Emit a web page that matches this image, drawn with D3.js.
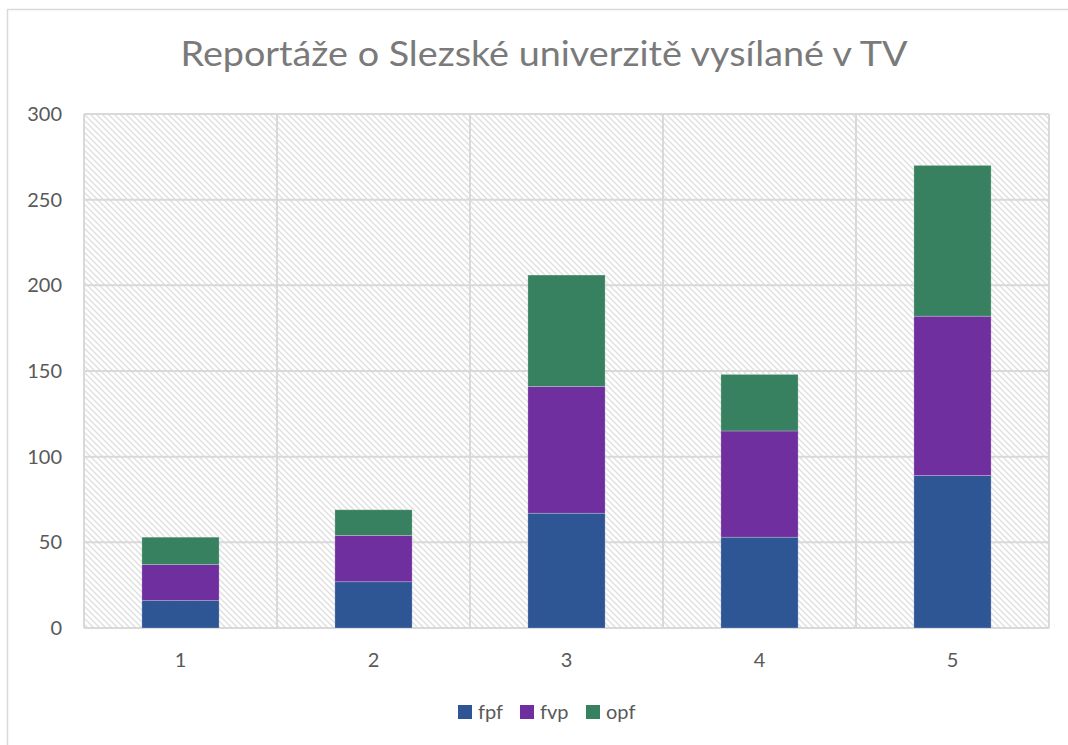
<!DOCTYPE html>
<html><head><meta charset="utf-8">
<script src="https://cdn.jsdelivr.net/npm/d3@7"></script>
<style>body{margin:0;background:#fff}svg{display:block}text{font-family:Lato,"Open Sans",sans-serif}</style>
</head><body>
<svg id="c" width="1068" height="745"></svg>
<script>
const title = "Reportáže o Slezské univerzitě vysílané v TV";
const categories = ["1","2","3","4","5"];
const seriesNames = ["fpf","fvp","opf"];
const fpf = [16, 27, 67, 53, 89];
const fvp = [21, 27, 74, 62, 93];
const opf = [16, 15, 65, 33, 88];
const seriesColors = ["#2E5594","#6F2F9E","#388160"];
const yTicks = [0,50,100,150,200,250,300];

const svg = d3.select("#c");
const plot = {l:84, r:1049, t:114, b:628};

// outer border
svg.append("rect").attr("x",7.5).attr("y",9.5).attr("width",1200).attr("height",900)
  .attr("fill","#fff").attr("stroke","#d9d9d9").attr("stroke-width",1.5);

// hatch pattern
const defs = svg.append("defs");
const pat = defs.append("pattern").attr("id","hatch").attr("patternUnits","userSpaceOnUse")
  .attr("width",6).attr("height",6);
pat.append("rect").attr("width",6).attr("height",6).attr("fill","#fff");
pat.append("path").attr("d","M0,0L6,6M-3,3L3,9M3,-3L9,3").attr("stroke","#dedede").attr("stroke-width",1.3);

const x = d3.scaleBand().domain(categories).range([plot.l, plot.r]).paddingInner(0).paddingOuter(0);
const y = d3.scaleLinear().domain([0,300]).range([plot.b, plot.t]);

svg.append("rect").attr("x",plot.l).attr("y",plot.t).attr("width",plot.r-plot.l).attr("height",plot.b-plot.t)
  .attr("fill","url(#hatch)");

// gridlines
const g = svg.append("g");
g.selectAll("line.h").data(yTicks).join("line")
  .attr("x1",plot.l).attr("x2",plot.r).attr("y1",d=>y(d)).attr("y2",d=>y(d))
  .attr("stroke","#d9d9d9").attr("stroke-width",2);
const vb = categories.map(c=>x(c)).concat([plot.r]);
g.selectAll("line.v").data(vb).join("line")
  .attr("x1",d=>d).attr("x2",d=>d).attr("y1",plot.t).attr("y2",plot.b)
  .attr("stroke","#d9d9d9").attr("stroke-width",2);

// stacked data
const table = categories.map((c,i)=>({cat:c, fpf:fpf[i], fvp:fvp[i], opf:opf[i]}));
const stack = d3.stack().keys(seriesNames)(table);
const bw = x.bandwidth()*0.4;
svg.append("g").selectAll("g").data(stack).join("g")
  .attr("fill",(d,i)=>seriesColors[i])
  .selectAll("rect").data(d=>d).join("rect")
  .attr("x",d=>x(d.data.cat)+(x.bandwidth()-bw)/2)
  .attr("width",bw)
  .attr("y",d=>y(d[1]))
  .attr("height",d=>y(d[0])-y(d[1]))
  .attr("stroke","rgba(255,255,255,0.3)").attr("stroke-width",0.75);

// y axis labels
svg.append("g").selectAll("text").data(yTicks).join("text")
  .attr("x",62).attr("y",d=>y(d)+7).attr("text-anchor","end")
  .attr("font-size",20).attr("fill","#595959").text(d=>d);

// x labels
svg.append("g").selectAll("text").data(categories).join("text")
  .attr("x",d=>x(d)+x.bandwidth()/2).attr("y",667).attr("text-anchor","middle")
  .attr("font-size",20).attr("fill","#595959").text(d=>d);

// title
svg.append("text").attr("x",544).attr("y",66).attr("text-anchor","middle")
  .attr("font-size",34).attr("fill","#7a7a7a")
  .attr("textLength",727).attr("lengthAdjust","spacingAndGlyphs").text(title);

// legend
const legX = [458, 520, 586];
const leg = svg.append("g").selectAll("g").data(seriesNames).join("g")
  .attr("transform",(d,i)=>`translate(${legX[i]},705)`);
leg.append("rect").attr("width",14).attr("height",14).attr("fill",(d,i)=>seriesColors[i]);
leg.append("text").attr("x",20).attr("y",14).attr("font-size",20).attr("fill","#595959").text(d=>d);
</script>
</body></html>
